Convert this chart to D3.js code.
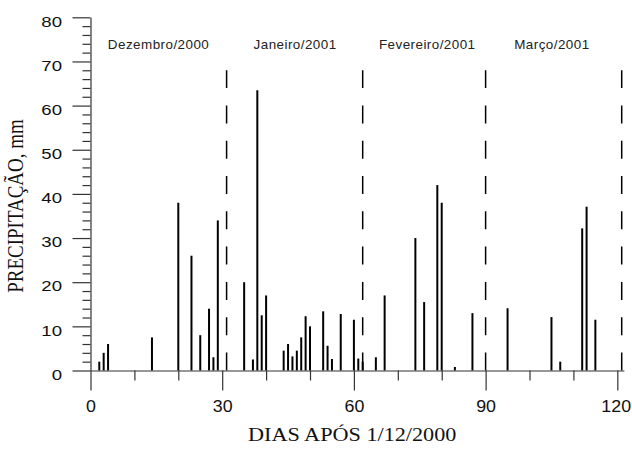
<!DOCTYPE html>
<html>
<head>
<meta charset="utf-8">
<script src="https://cdn.jsdelivr.net/npm/d3@7"></script>
<style>
body { margin: 0; background: #fff; }
</style>
</head>
<body>
<svg id="chart" width="632" height="452"></svg>
<script>
// daily rainfall, days after 1/12/2000
const days = [2, 3, 4, 14, 20, 23, 25, 27, 28, 29, 35, 37, 38, 39, 40, 44, 45, 46, 47, 48, 49, 50,
    53, 54, 55, 57, 60, 61, 62, 65, 67, 74, 76, 79, 80, 83, 87, 95, 105, 107, 112, 113, 115];
const rain = [2, 4, 6, 7.5, 38, 26, 8, 14, 3, 34, 20, 2.5, 63.5, 12.5, 17, 4.5, 6, 3.2, 4.5, 7.5, 12.3, 10,
    13.4, 5.6, 2.6, 12.8, 11.5, 2.7, 2, 3, 17, 30, 15.5, 42, 38, 0.8, 13, 14.1, 12.1, 2, 32.2, 37.1, 11.5];

const monthEnds = [31, 62, 90, 121];
const monthNames = ["Dezembro/2000", "Janeiro/2001", "Fevereiro/2001", "Março/2001"];
const monthLabelDay = [15.5, 46.6, 76.7, 105.1];

const xMajor = [0, 30, 60, 90, 120];
const xMinor = [10, 20, 40, 50, 70, 80, 100, 110];
const yMajor = [0, 10, 20, 30, 40, 50, 60, 70, 80];
const yMinor = [2, 4, 6, 8, 12, 14, 16, 18, 22, 24, 26, 28, 32, 34, 36, 38,
    42, 44, 46, 48, 52, 54, 56, 58, 62, 64, 66, 68, 72, 74, 76, 78];

const svg = d3.select("#chart");
const sx = 1.2; // the original figure is stretched sideways

const x = d3.scaleLinear().domain([0, 121.5]).range([90.5, 623.9]);
const y = d3.scaleLinear().domain([0, 80]).range([370.5, 17.3]);

// bars
svg.append("g")
    .selectAll("line")
    .data(days)
    .enter()
    .append("line")
    .attr("x1", d => x(d))
    .attr("x2", d => x(d))
    .attr("y1", y(0))
    .attr("y2", (d, i) => y(rain[i]))
    .attr("stroke", "#000")
    .attr("stroke-width", 2);

// month dividers
svg.append("g")
    .selectAll("line")
    .data(monthEnds)
    .enter()
    .append("line")
    .attr("x1", d => x(d))
    .attr("x2", d => x(d))
    .attr("y1", y(0))
    .attr("y2", y(68))
    .attr("stroke", "#000")
    .attr("stroke-width", 1.5)
    .attr("stroke-dasharray", "18,17.3");

svg.append("g")
    .selectAll("text")
    .data(monthNames)
    .enter()
    .append("text")
    .attr("transform", (d, i) => `translate(${x(monthLabelDay[i])},49) scale(1.12,1)`)
    .attr("text-anchor", "middle")
    .attr("font-family", "Liberation Sans, Arial, sans-serif")
    .attr("font-size", 12)
    .attr("letter-spacing", 0.4)
    .attr("fill", "#222")
    .text(d => d);

// axes
const axisColor = "#333";

const xAxis = svg.append("g")
    .attr("transform", `translate(0,${y(0)})`)
    .call(d3.axisBottom(x).tickValues(xMajor).tickSize(20).tickSizeOuter(0).tickPadding(0));
xAxis.select(".domain").attr("stroke", axisColor).attr("stroke-width", 1.2);
xAxis.selectAll(".tick line").attr("stroke", axisColor).attr("stroke-width", 1.2);
xAxis.selectAll(".tick text")
    .attr("y", 42)
    .attr("dy", 0)
    .attr("transform", "scale(1.08,1)")
    .attr("x", d => d === 120 ? -1.5 : 0)
    .attr("font-family", "Liberation Sans, Arial, sans-serif")
    .attr("font-size", 16.5)
    .attr("fill", "#111");

const xMinorAxis = svg.append("g")
    .attr("transform", `translate(0,${y(0)})`)
    .call(d3.axisBottom(x).tickValues(xMinor).tickSize(10).tickFormat(""));
xMinorAxis.select(".domain").remove();
xMinorAxis.selectAll(".tick line").attr("stroke", axisColor).attr("stroke-width", 1.2);

const yAxis = svg.append("g")
    .attr("transform", `translate(${x(0)},0)`)
    .call(d3.axisLeft(y).tickValues(yMajor).tickSize(18).tickSizeOuter(0));
yAxis.select(".domain").attr("stroke", axisColor).attr("stroke-width", 1.2);
yAxis.selectAll(".tick line").attr("stroke", axisColor).attr("stroke-width", 1.2);
yAxis.selectAll(".tick text")
    .attr("x", -28.5 / 1.2)
    .attr("dy", 0)
    .attr("y", 8.7)
    .attr("transform", "scale(1.2,1)")
    .attr("font-family", "Liberation Sans, Arial, sans-serif")
    .attr("font-size", 15.5)
    .attr("fill", "#111");

const yMinorAxis = svg.append("g")
    .attr("transform", `translate(${x(0)},0)`)
    .call(d3.axisLeft(y).tickValues(yMinor).tickSize(8).tickFormat(""));
yMinorAxis.select(".domain").remove();
yMinorAxis.selectAll(".tick line").attr("stroke", axisColor).attr("stroke-width", 1.2);

// axis titles
svg.append("text")
    .attr("transform", `translate(${(x(0) + x(121.5)) / 2 - 5},441) scale(${sx},1)`)
    .attr("text-anchor", "middle")
    .attr("font-family", "Liberation Serif, Times New Roman, serif")
    .attr("font-size", 18.5)
    .attr("fill", "#111")
    .text("DIAS APÓS 1/12/2000");

svg.append("text")
    .attr("transform", `translate(23,206) scale(${sx},1) rotate(-90)`)
    .attr("text-anchor", "middle")
    .attr("font-family", "Liberation Serif, Times New Roman, serif")
    .attr("font-size", 19)
    .attr("fill", "#111")
    .text("PRECIPITAÇÃO, mm");
</script>
</body>
</html>
